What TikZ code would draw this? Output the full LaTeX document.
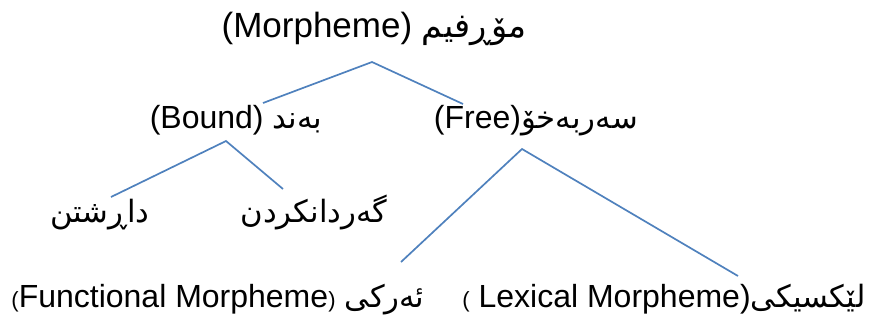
\documentclass[tikz,border=0pt]{standalone}
\usepackage{fontspec}
\setmainfont{Liberation Sans}
\newfontfamily\arabicfont[Script=Arabic,Scale=0.96]{DejaVu Sans}
\TeXXeTstate=1
\usepackage{xcolor}
\definecolor{treeblue}{RGB}{79,129,189}
\newcommand{\kur}[1]{{\arabicfont\beginR #1\endR}}
\newcommand{\smallparen}[1]{{\fontsize{22}{24}\selectfont #1}}

\begin{document}
\begin{tikzpicture}[x=1pt,y=-1pt,
	lbl/.style={inner sep=0pt,anchor=base,font=\fontsize{32}{36}\selectfont},
	branch/.style={treeblue,line width=1.7pt}]
		\useasboundingbox (0,0) rectangle (869,322);
		\node[lbl,font=\fontsize{35}{40}\selectfont] (morph) at (374,37) {(Morpheme) \kur{مۆڕفیم}};
		\node[lbl] (bound) at (236,128) {(Bound) \kur{بەند}};
		\node[lbl] (free) at (536,128) {(Free)\kur{سەربەخۆ}};
		\node[lbl] (dar) at (100,222) {\kur{داڕشتن}};
		\node[lbl] (gard) at (314,222) {\kur{گەردانکردن}};
		\node[lbl] (func) at (218,307) {\smallparen{(}Functional Morpheme\smallparen{)} \kur{ئەرکی}};
		\node[lbl] (lex) at (664,307) {\smallparen{(} Lexical Morpheme)\kur{لێکسیکی}};
		\coordinate (m-fork) at (372,62);
		\coordinate (b-fork) at (226,141);
		\coordinate (f-fork) at (522,149);
		\coordinate (b-end) at (263,103);
		\coordinate (f-end) at (463,104);
		\coordinate (dar-end) at (111,197);
		\coordinate (gard-end) at (283,189);
		\coordinate (func-end) at (401,262);
		\coordinate (lex-end) at (738,276);
		\draw[branch] (b-end) -- (m-fork) -- (f-end);
		\draw[branch] (dar-end) -- (b-fork) -- (gard-end);
		\draw[branch] (func-end) -- (f-fork) -- (lex-end);
\end{tikzpicture}
\end{document}
